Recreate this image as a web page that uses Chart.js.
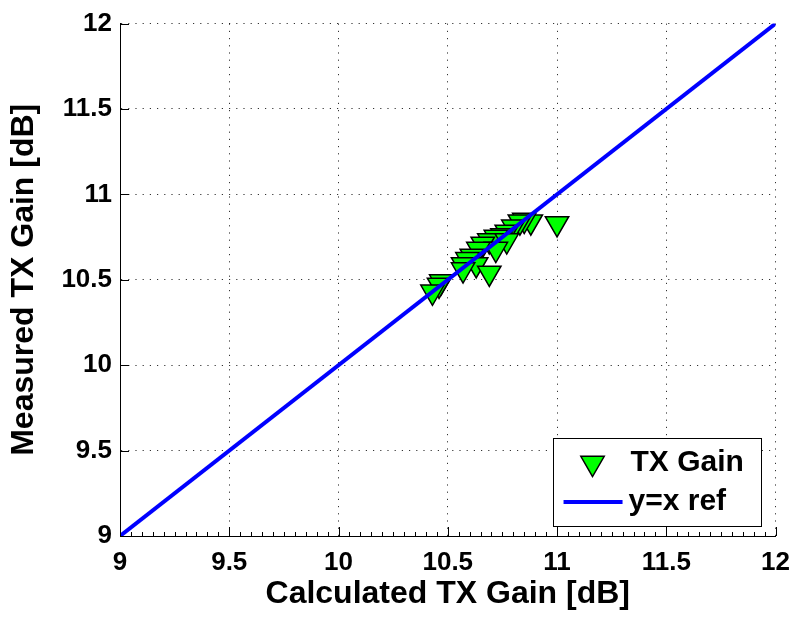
<!DOCTYPE html>
<html>
<head>
<meta charset="utf-8">
<title>TX Gain: measured vs calculated</title>
<script src="https://cdn.jsdelivr.net/npm/chart.js@4.4.1/dist/chart.umd.min.js"></script>
<style>
  html, body { margin: 0; padding: 0; background: #ffffff; }
  #wrap { width: 801px; height: 618px; position: relative; }
  canvas { display: block; }
</style>
</head>
<body>
<div id="wrap"><canvas id="chart" width="801" height="618"></canvas></div>
<script>
// Calculated vs measured transmitter gain, one entry per measured unit [dB]
const calculatedGain = [11.00, 10.88, 10.85, 10.83, 10.80, 10.77, 10.75, 10.72, 10.69, 10.77, 10.66,
                        10.72, 10.64, 10.61, 10.59, 10.63, 10.57, 10.57, 10.69, 10.47, 10.46, 10.43];
const measuredGain   = [10.83, 10.84, 10.85, 10.84, 10.81, 10.78, 10.76, 10.75, 10.73, 10.73, 10.71,
                        10.68, 10.68, 10.64, 10.62, 10.59, 10.59, 10.56, 10.54, 10.49, 10.47, 10.43];

// Reference line y = x across the full axis range
const refLineX = [9, 12];
const refLineY = [9, 12];

// Axis ticks
const xTickValues = [9, 9.5, 10, 10.5, 11, 11.5, 12];
const yTickValues = [9, 9.5, 10, 10.5, 11, 11.5, 12];
const xMinorStep = 0.05;

const seriesLabels = ['TX Gain', 'y=x ref'];
const xTitle = 'Calculated TX Gain [dB]';
const yTitle = 'Measured TX Gain [dB]';

const FONT = '"Liberation Sans", Arial, Helvetica, sans-serif';
const MARKER_GREEN = '#00ff00';
const LINE_BLUE = '#0000ff';

const scatterPoints = calculatedGain.map((x, i) => ({ x, y: measuredGain[i] }));
const refPoints = refLineX.map((x, i) => ({ x, y: refLineY[i] }));

// Inward tick marks (major on both axes, minor on x) drawn from the scales
const inwardTicks = {
  id: 'inwardTicks',
  afterDatasetsDraw(chart) {
    const { ctx, chartArea: a, scales: { x, y } } = chart;
    const MAJOR = 9, MINOR = 4;
    ctx.save();
    ctx.strokeStyle = '#000';
    ctx.lineWidth = 1;
    ctx.beginPath();
    xTickValues.forEach(v => {
      const px = Math.round(x.getPixelForValue(v)) + 0.5;
      ctx.moveTo(px, a.bottom); ctx.lineTo(px, a.bottom - MAJOR);
    });
    yTickValues.forEach(v => {
      const py = Math.round(y.getPixelForValue(v)) + 0.5;
      ctx.moveTo(a.left, py); ctx.lineTo(a.left + MAJOR, py);
    });
    const n = Math.round((x.max - x.min) / xMinorStep);
    for (let i = 0; i <= n; i++) {
      const v = x.min + i * xMinorStep;
      if (xTickValues.some(t => Math.abs(t - v) < 1e-6)) continue;
      const px = Math.round(x.getPixelForValue(v)) + 0.5;
      ctx.moveTo(px, a.bottom); ctx.lineTo(px, a.bottom - MINOR);
    }
    ctx.stroke();
    ctx.restore();
  }
};

// Boxed legend in the lower-right corner of the plot area
const boxLegend = {
  id: 'boxLegend',
  afterDraw(chart) {
    const { ctx, chartArea: a } = chart;
    const ds = chart.data.datasets;
    const w = 208, h = 88;
    const x0 = a.right - 15 - w;
    const y0 = a.bottom - 10 - h;
    ctx.save();
    ctx.fillStyle = '#fff';
    ctx.fillRect(x0, y0, w, h);
    ctx.strokeStyle = '#000';
    ctx.lineWidth = 1;
    ctx.strokeRect(Math.round(x0) + 0.5, Math.round(y0) + 0.5, w, h);

    // marker row
    const r1 = y0 + 25;
    ctx.fillStyle = ds[0].pointBackgroundColor;
    ctx.strokeStyle = ds[0].pointBorderColor;
    ctx.lineWidth = ds[0].pointBorderWidth;
    Chart.helpers.drawPoint(ctx, {
      pointStyle: ds[0].pointStyle,
      rotation: ds[0].rotation,
      radius: ds[0].pointRadius,
      borderWidth: ds[0].pointBorderWidth
    }, x0 + 40, r1);

    // line row
    const r2 = y0 + 64;
    ctx.strokeStyle = ds[1].borderColor;
    ctx.lineWidth = ds[1].borderWidth;
    ctx.beginPath();
    ctx.moveTo(x0 + 11, r2); ctx.lineTo(x0 + 70, r2);
    ctx.stroke();

    ctx.fillStyle = '#000';
    ctx.font = 'bold 30px ' + FONT;
    ctx.textBaseline = 'middle';
    ctx.textAlign = 'left';
    ctx.fillText(ds[0].label, x0 + 78, r1);
    ctx.fillText(ds[1].label, x0 + 76, r2);
    ctx.restore();
  }
};

new Chart(document.getElementById('chart'), {
  type: 'scatter',
  data: {
    datasets: [
      {
        label: seriesLabels[0],
        data: scatterPoints,
        pointStyle: 'triangle',
        rotation: 180,
        pointRadius: 13.5,
        pointHoverRadius: 13.5,
        pointBackgroundColor: MARKER_GREEN,
        pointBorderColor: '#000',
        pointBorderWidth: 1.5,
        showLine: false,
        order: 2
      },
      {
        type: 'line',
        label: seriesLabels[1],
        data: refPoints,
        borderColor: LINE_BLUE,
        borderWidth: 4,
        pointRadius: 0,
        fill: false,
        tension: 0,
        order: 1
      }
    ]
  },
  options: {
    responsive: false,
    devicePixelRatio: 1,
    animation: false,
    events: [],
    layout: { padding: { left: 0, right: 21, top: 20, bottom: 0 } },
    plugins: {
      legend: { display: false },
      tooltip: { enabled: false },
      title: { display: false }
    },
    scales: {
      x: {
        type: 'linear',
        position: 'bottom',
        min: 9,
        max: 12,
        afterBuildTicks: s => { s.ticks = xTickValues.map(value => ({ value })); },
        afterFit: s => { s.height = 82; },
        ticks: {
          color: '#000',
          font: { family: FONT, weight: 'bold', size: 26 },
          padding: 11,
          maxRotation: 0,
          autoSkip: false,
          callback: v => String(v)
        },
        grid: { color: 'rgba(0,0,0,0.8)', lineWidth: 1, drawTicks: false },
        border: { display: true, color: '#000', width: 1, dash: [1.2, 6] },
        title: {
          display: true,
          text: xTitle,
          color: '#000',
          font: { family: FONT, weight: 'bold', size: 32 },
          padding: { top: 0, bottom: 5 }
        }
      },
      y: {
        type: 'linear',
        position: 'left',
        min: 9,
        max: 12,
        afterBuildTicks: s => { s.ticks = yTickValues.map(value => ({ value })); },
        afterFit: s => { s.width = 120; },
        ticks: {
          color: '#000',
          font: { family: FONT, weight: 'bold', size: 26 },
          padding: 8,
          autoSkip: false,
          callback: v => String(v)
        },
        grid: { color: 'rgba(0,0,0,0.8)', lineWidth: 1, drawTicks: false },
        border: { display: true, color: '#000', width: 1, dash: [1.2, 6] },
        title: {
          display: true,
          text: yTitle,
          color: '#000',
          font: { family: FONT, weight: 'bold', size: 32 },
          padding: { top: 5, bottom: 0 }
        }
      }
    }
  },
  plugins: [inwardTicks, boxLegend]
});
</script>
</body>
</html>
